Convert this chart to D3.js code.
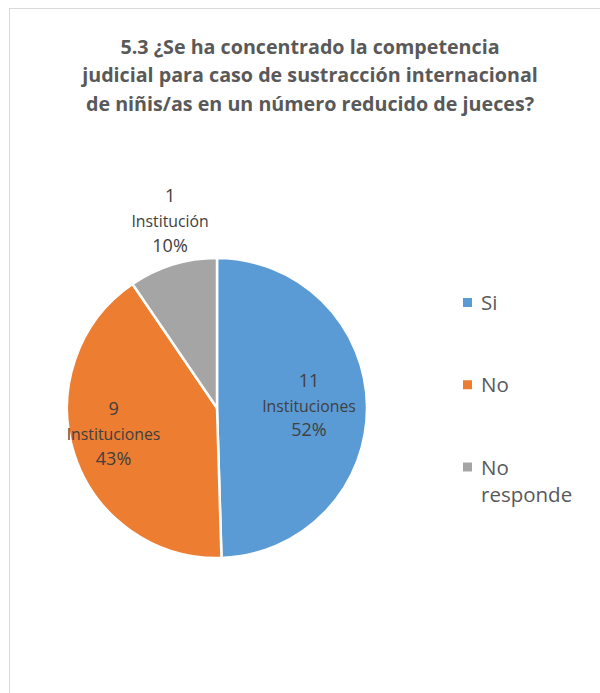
<!DOCTYPE html>
<html><head><meta charset="utf-8">
<script src="https://cdn.jsdelivr.net/npm/d3@7"></script>
<style>
html,body{margin:0;padding:0;background:#fff;}
svg{display:block;}
</style></head>
<body>
<script>
const categories = ["Si", "No", "No responde"];
const values = [52, 43, 10];
const counts = ["11", "9", "1"];
const units = ["Instituciones", "Instituciones", "Institución"];
const pctLabels = ["52%", "43%", "10%"];
const colors = ["#5B9BD5", "#ED7D31", "#A5A5A5"];
const titleLines = ["5.3 ¿Se ha concentrado la competencia",
  "judicial para caso de sustracción internacional",
  "de niñis/as en un número reducido de jueces?"];

const W = 600, H = 693;
const svg = d3.select("body").append("svg").attr("width", W).attr("height", H);
const font = "'Open Sans', 'Liberation Sans', sans-serif";

svg.append("rect").attr("x", 9.5).attr("y", 8.5).attr("width", W).attr("height", H)
  .attr("fill", "#fff").attr("stroke", "#d9d9d9").attr("stroke-width", 1);

svg.append("g").selectAll("text").data(titleLines).join("text")
  .attr("x", 310).attr("y", (d, i) => 53.5 + i * 28.8)
  .attr("text-anchor", "middle").attr("font-family", font)
  .attr("font-weight", "bold").attr("font-size", 19.7).attr("fill", "#595959")
  .text(d => d);

const cx = 217, cy = 408, R = 150;
const pie = d3.pie().sort(null).value(d => d)(values);
const arc = d3.arc().innerRadius(0).outerRadius(R);
const g = svg.append("g").attr("transform", `translate(${cx},${cy})`);
g.selectAll("path").data(pie).join("path")
  .attr("d", arc).attr("fill", (d, i) => colors[i])
  .attr("stroke", "#fff").attr("stroke-width", 2.5).attr("stroke-linejoin", "round");

// label anchor: centroid at a fraction of the radius, nudged like Excel's best-fit placement
const labelArc = d3.arc().innerRadius(R * 0.62).outerRadius(R * 0.62);
const outerArc = d3.arc().innerRadius(R * 1.22).outerRadius(R * 1.22);
const nudges = [[-1, -1], [-15, -3], [7, -12]];
const labelPos = (d, i) => {
  const c = (i === 2 ? outerArc : labelArc).centroid(d);
  return [c[0] + nudges[i][0], c[1] + nudges[i][1]];
};
const lg = g.selectAll("g.lbl").data(pie).join("g").attr("class", "lbl")
  .attr("transform", (d, i) => { const p = labelPos(d, i); return `translate(${p[0]},${p[1]})`; });
lg.each(function (d, i) {
  const t = d3.select(this);
  [counts[i], units[i], pctLabels[i]].forEach((s, k) => {
    t.append("text").attr("x", 0).attr("y", (k - 1) * 24.8 + 6)
      .attr("text-anchor", "middle").attr("font-family", font)
      .attr("font-size", k === 1 ? 15.8 : 18).attr("fill", "#404040").text(s);
  });
});

// legend
const ly = d3.scalePoint().domain(categories).range([302.5, 467]);
const leg = svg.append("g").selectAll("g").data(categories).join("g")
  .attr("transform", d => `translate(463,${ly(d)})`);
leg.append("rect").attr("x", 0).attr("y", -4.5).attr("width", 9).attr("height", 9)
  .attr("fill", (d, i) => colors[i]);
leg.each(function (d) {
  const words = d === "No responde" ? ["No", "responde"] : [d];
  words.forEach((w, k) => d3.select(this).append("text")
    .attr("x", 18).attr("y", 7.5 + k * 27).attr("font-family", font)
    .attr("font-size", 20.5).attr("fill", "#595959").text(w));
});
</script>
</body></html>
